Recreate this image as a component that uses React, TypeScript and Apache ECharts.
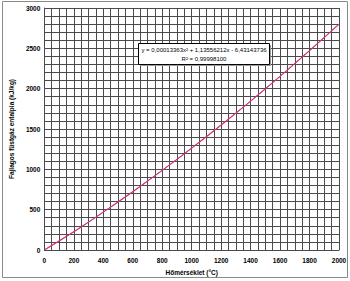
import React, { useEffect, useRef } from "react";
import * as echarts from "echarts";

const temps = [0, 200, 400, 600, 800, 1000, 1200, 1400, 1600, 1800, 2000];
const enthalpy = [0, 226, 469, 723, 987, 1263, 1549, 1845, 2153, 2471, 2799];
const trend = [0, 226, 469, 723, 987, 1263, 1549, 1845, 2153, 2471, 2799];
const xTitle = "Hőmérséklet (°C)";
const yTitle = "Fajlagos füstgáz entalpia (kJ/kg)";
const eqLine1 = "y = 0,00013363x² + 1,13556212x - 6,43143736";
const eqLine2 = "R² = 0,99998100";

export default function App() {
  const ref = useRef<HTMLDivElement>(null);
  useEffect(() => {
    const chart = echarts.init(ref.current!, null, { renderer: "svg" });
    const font = "Liberation Sans, Arial, sans-serif";
    const gridLine = { show: true, lineStyle: { color: "#4a4a4a", width: 1 } };
    const fmt = (v: number) => String(v);
    chart.setOption({
      animation: false,
      backgroundColor: "#ffffff",
      grid: { left: 36, right: 11, top: 8, bottom: 29, containLabel: false },
      xAxis: {
        type: "value",
        min: 0,
        max: 2000,
        interval: 200,
        name: xTitle,
        nameLocation: "middle",
        nameGap: 19,
        nameTextStyle: { fontFamily: font, fontSize: 6.5, fontWeight: "bold", color: "#000" },
        axisLine: { show: true, onZero: false, lineStyle: { color: "#4a4a4a" } },
        axisTick: { show: false },
        axisLabel: { fontFamily: font, fontSize: 6.5, fontWeight: "bold", color: "#000", margin: 7, formatter: fmt },
        splitLine: gridLine,
        minorTick: { show: false, splitNumber: 4 },
        minorSplitLine: gridLine,
      },
      yAxis: {
        type: "value",
        min: 0,
        max: 3000,
        interval: 500,
        name: yTitle,
        nameLocation: "middle",
        nameGap: 24,
        nameRotate: 90,
        nameTextStyle: { fontFamily: font, fontSize: 6.5, fontWeight: "bold", color: "#000" },
        axisLine: { show: true, lineStyle: { color: "#4a4a4a" } },
        axisTick: { show: false },
        axisLabel: { fontFamily: font, fontSize: 6.5, fontWeight: "bold", color: "#000", margin: 4, formatter: fmt },
        splitLine: gridLine,
        minorTick: { show: false, splitNumber: 5 },
        minorSplitLine: gridLine,
      },
      series: [
        {
          type: "line",
          data: temps.map((t, i) => [t, enthalpy[i]]),
          showSymbol: false,
          lineStyle: { color: "#5050ff", width: 0.8 },
          z: 2,
        },
        {
          type: "line",
          data: temps.map((t, i) => [t, trend[i]]),
          showSymbol: false,
          smooth: true,
          lineStyle: { color: "#e0306a", width: 1.1 },
          z: 3,
        },
      ],
      graphic: [
        {
          type: "rect",
          shape: { x: 2.5, y: 1.5, width: 345, height: 276 },
          style: { fill: "none", stroke: "#8a8a8a", lineWidth: 1 },
          silent: true,
          z: 0,
        },
        {
          type: "rect",
          shape: { x: 140, y: 45, width: 131, height: 21 },
          style: { fill: "#9a9a9a", stroke: "none" },
          z: 10,
        },
        {
          type: "rect",
          shape: { x: 138.5, y: 43.5, width: 131, height: 21 },
          style: { fill: "#ffffff", stroke: "#000000", lineWidth: 1 },
          z: 11,
        },
        {
          type: "text",
          x: 204,
          y: 49.5,
          style: { text: eqLine1, fontFamily: font, fontSize: 6, fill: "#000", align: "center", verticalAlign: "middle" },
          z: 12,
        },
        {
          type: "text",
          x: 204,
          y: 59,
          style: { text: eqLine2, fontFamily: font, fontSize: 6, fill: "#000", align: "center", verticalAlign: "middle" },
          z: 12,
        },
      ],
    });
    return () => chart.dispose();
  }, []);
  return (
    <div
      ref={ref}
      style={{ position: "fixed", left: 0, top: 0, width: 350, height: 281, background: "#fff" }}
    />
  );
}
